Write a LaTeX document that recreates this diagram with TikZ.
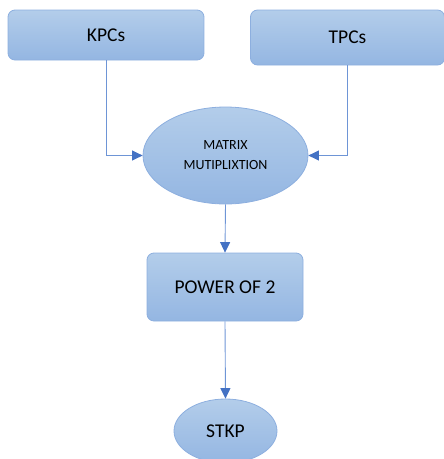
\documentclass[tikz,border=0pt]{standalone}
\usepackage{fontspec}
\setmainfont{Carlito}
\usetikzlibrary{shapes.geometric,arrows.meta}
\definecolor{boxtop}{HTML}{B3CDEA}
\definecolor{boxbot}{HTML}{94B6E2}
\definecolor{boxedge}{HTML}{8DAFDF}
\definecolor{linec}{HTML}{6E95D6}
\definecolor{tipc}{HTML}{4472C4}
\tikzset{
  boxnode/.style={draw=boxedge, line width=0.8pt, rounded corners=7pt, top color=boxtop, bottom color=boxbot, inner sep=0pt, font=\fontsize{19.5}{21}\selectfont},
  ellnode/.style={ellipse, draw=boxedge, line width=0.8pt, top color=boxtop, bottom color=boxbot, inner sep=0pt},
  conn/.style={draw=linec, line width=0.9pt, -{Triangle[length=10.5pt,width=10pt,color=tipc]}}
}
\begin{document}
\begin{tikzpicture}[x=1pt,y=-1pt]
\useasboundingbox (0,0) rectangle (444,459);
\begin{scope}
\clip (0,0) rectangle (444,459);
\node[boxnode, minimum width=196pt, minimum height=50pt] (kpc) at (106,35) {KPCs};
\node[boxnode, minimum width=194pt, minimum height=55pt] (tpc) at (347.5,37.5) {TPCs};
\node[ellnode, minimum width=165pt, minimum height=97pt, align=center, font=\fontsize{14}{20}\selectfont] (mm) at (225.5,155.5) {MATRIX\\MUTIPLIXTION};
\node[boxnode, minimum width=156pt, minimum height=68pt] (pow) at (225,287) {POWER OF 2};
\node[ellnode, minimum width=103pt, minimum height=64pt, font=\fontsize{19.5}{21}\selectfont] (stkp) at (225.5,431) {STKP};
\draw[conn] (kpc.south) |- (mm.west);
\draw[conn] (tpc.south) |- (mm.east);
\draw[conn] (mm.south) -- (pow.north);
\draw[conn] (pow.south) -- (stkp.north);
\end{scope}
\end{tikzpicture}
\end{document}
